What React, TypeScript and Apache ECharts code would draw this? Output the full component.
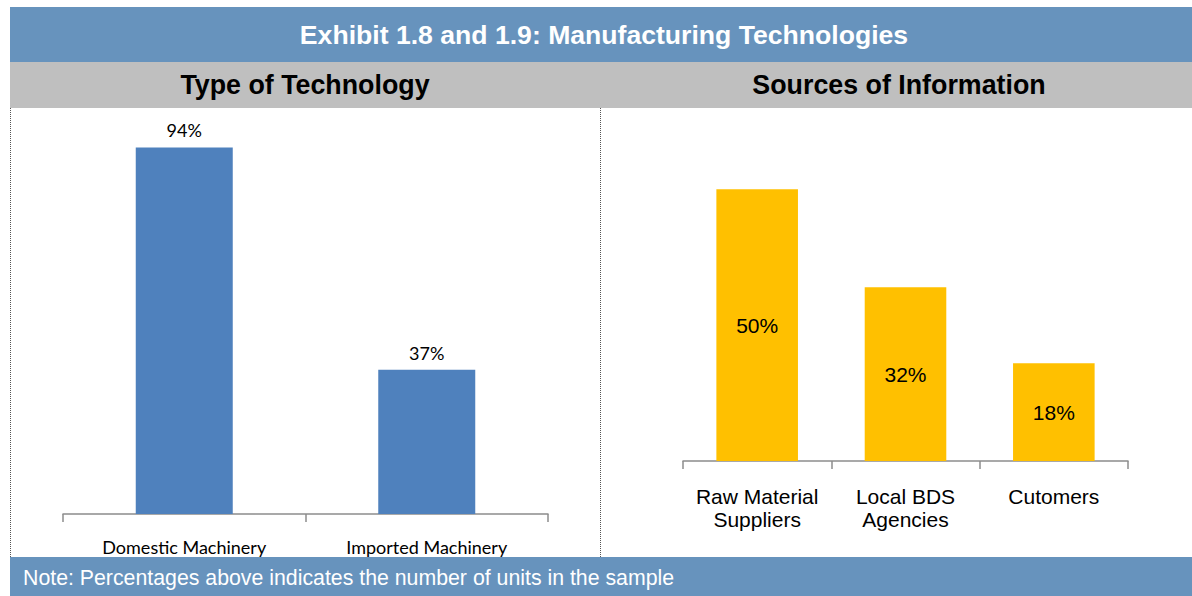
import React, { useEffect, useRef } from "react";
import * as echarts from "echarts";

const techCategories = ["Domestic Machinery", "Imported Machinery"];
const techValues = [94, 37];
const sourceCategories = ["Raw Material\nSuppliers", "Local BDS\nAgencies", "Cutomers"];
const sourceValues = [50, 32, 18];

const titleText = "Exhibit 1.8 and 1.9: Manufacturing Technologies";
const leftTitle = "Type of Technology";
const rightTitle = "Sources of Information";
const noteText = "Note: Percentages above indicates the number of units in the sample";

export default function App() {
  const ref = useRef<HTMLDivElement>(null);
  useEffect(() => {
    if (!ref.current) return;
    const chart = echarts.init(ref.current, null, { renderer: "svg" });
    const axisColor = "#8c8c8c";
    chart.setOption({
      animation: false,
      backgroundColor: "#ffffff",
      grid: [
        { left: 63, top: 124, width: 485, height: 390 },
        { left: 683, top: 135, width: 445, height: 326 },
      ],
      xAxis: [
        {
          type: "category",
          gridIndex: 0,
          data: techCategories,
          axisLine: { lineStyle: { color: axisColor, width: 1.5 } },
          axisTick: { show: true, length: 8, lineStyle: { color: axisColor, width: 1.5 } },
          axisLabel: { interval: 0, margin: 24, color: "#000", fontFamily: "Lato", fontSize: 18 },
        },
        {
          type: "category",
          gridIndex: 1,
          data: sourceCategories,
          axisLine: { lineStyle: { color: axisColor, width: 1.5 } },
          axisTick: { show: true, length: 8, lineStyle: { color: axisColor, width: 1.5 } },
          axisLabel: {
            interval: 0,
            margin: 24,
            color: "#000",
            fontFamily: "Liberation Sans",
            fontSize: 21,
            lineHeight: 23,
          },
        },
      ],
      yAxis: [
        { type: "value", gridIndex: 0, min: 0, max: 100, show: false },
        { type: "value", gridIndex: 1, min: 0, max: 60, show: false },
      ],
      series: [
        {
          type: "bar",
          xAxisIndex: 0,
          yAxisIndex: 0,
          data: techValues,
          barWidth: "40%",
          itemStyle: { color: "#4F81BD" },
          label: {
            show: true,
            position: "top",
            distance: 8,
            formatter: "{c}%",
            color: "#000",
            fontFamily: "Lato",
            fontSize: 18,
          },
        },
        {
          type: "bar",
          xAxisIndex: 1,
          yAxisIndex: 1,
          data: sourceValues,
          barWidth: "55%",
          itemStyle: { color: "#FFC000" },
          label: {
            show: true,
            position: "inside",
            formatter: "{c}%",
            color: "#000",
            fontFamily: "Liberation Sans",
            fontSize: 21,
          },
        },
      ],
      graphic: [
        { type: "rect", shape: { x: 10, y: 7, width: 1182, height: 55 }, style: { fill: "#6793BD" }, z: -1 },
        {
          type: "text",
          x: 604,
          y: 35,
          style: {
            text: titleText,
            fill: "#fff",
            font: "bold 26.6px 'Liberation Sans', Arial",
            textAlign: "center",
            textVerticalAlign: "middle",
          },
        },
        { type: "rect", shape: { x: 10, y: 62, width: 1182, height: 46 }, style: { fill: "#BFBFBF" }, z: -1 },
        {
          type: "text",
          x: 305,
          y: 85,
          style: {
            text: leftTitle,
            fill: "#000",
            font: "bold 26.8px 'Liberation Sans', Arial",
            textAlign: "center",
            textVerticalAlign: "middle",
          },
        },
        {
          type: "text",
          x: 899,
          y: 85,
          style: {
            text: rightTitle,
            fill: "#000",
            font: "bold 26.8px 'Liberation Sans', Arial",
            textAlign: "center",
            textVerticalAlign: "middle",
          },
        },
        {
          type: "line",
          shape: { x1: 10.5, y1: 108, x2: 10.5, y2: 557 },
          style: { stroke: "#555", lineWidth: 1, lineDash: [1, 1] },
        },
        {
          type: "line",
          shape: { x1: 600.5, y1: 108, x2: 600.5, y2: 557 },
          style: { stroke: "#555", lineWidth: 1, lineDash: [1, 1] },
        },
        { type: "rect", shape: { x: 10, y: 557, width: 1182, height: 39 }, style: { fill: "#6793BD" }, z: -1 },
        {
          type: "text",
          x: 23,
          y: 578,
          style: {
            text: noteText,
            fill: "#fff",
            font: "21.3px 'Liberation Sans', Arial",
            textAlign: "left",
            textVerticalAlign: "middle",
          },
        },
      ],
    });
    return () => chart.dispose();
  }, []);
  return (
    <div
      ref={ref}
      style={{ position: "absolute", left: 0, top: 0, width: 1192, height: 596 }}
    />
  );
}
